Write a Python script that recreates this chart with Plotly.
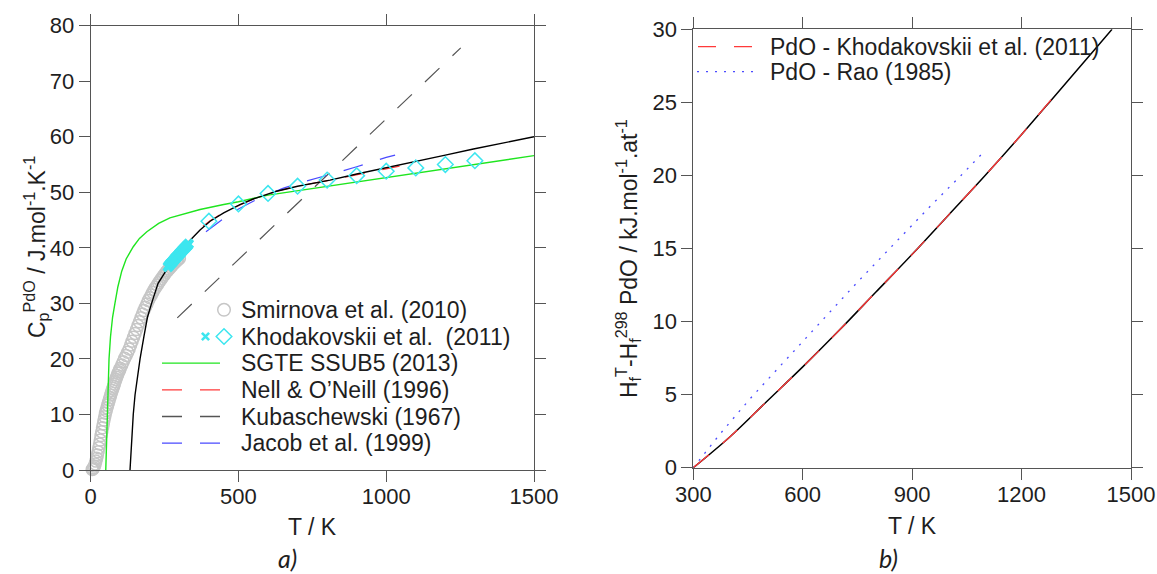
import plotly.graph_objects as go

W, H = 1157, 574

# ---------------- data: panel a) heat capacity ----------------
smirnova_T = [5, 7.5, 10, 12.5, 15, 17.5, 20, 22.5, 25, 27.5, 30, 32.5, 35, 37.5, 40, 42.5, 45,
              47.5, 50, 52.5, 55, 57.5, 60, 62.5, 65, 67.5, 70, 72.5, 75, 77.5, 80, 82.5, 85, 87.5,
              90, 92.5, 95, 97.5, 100,
              105, 110, 115, 120, 125, 130, 135, 140, 145, 150, 155, 160, 165, 170, 175, 180,
              185, 190, 195, 200, 205, 210, 215, 220, 225, 230, 235, 240, 245, 250, 255, 260,
              265, 270, 275, 280, 285, 290, 295, 300]
smirnova_cp = [0.1, 0.2, 0.4, 0.7, 1.1, 1.6, 2.1, 2.7, 3.3, 4.0, 4.7, 5.4, 6.2, 6.9, 7.6, 8.3, 9.0,
               9.6, 10.2, 10.7, 11.2, 11.7, 12.1, 12.6, 13.0, 13.5, 13.9, 14.3, 14.7, 15.1, 15.5,
               15.9, 16.3, 16.7, 17.0, 17.4, 17.7, 18.0, 18.3,
               18.9, 19.5, 20.1, 20.6, 21.2, 21.8, 22.5, 23.2, 23.9,
               24.6, 25.3, 26.0, 26.7, 27.4, 28.1, 28.7, 29.3, 29.9, 30.5, 31.0, 31.5, 32.0, 32.5,
               32.9, 33.3, 33.7, 34.1, 34.5, 34.9, 35.2, 35.6, 35.9, 36.2, 36.5, 36.8, 37.1, 37.4,
               37.6, 37.9, 38.1]

khod_low_T = [262, 265, 268, 271, 274, 277, 280, 283, 286, 289, 292, 295, 298, 301, 304, 307,
              310, 313, 316, 319, 322, 325, 328, 331]
khod_low_cp = [36.6, 36.8, 37.0, 37.2, 37.35, 37.5, 37.7, 37.9, 38.1, 38.3, 38.4, 38.6, 38.8,
               39.0, 39.1, 39.3, 39.5, 39.7, 39.8, 40.0, 40.2, 40.3, 40.5, 40.7]

khod_T = [400, 500, 600, 700, 800, 900, 1000, 1100, 1200, 1300]
khod_cp = [44.8, 47.9, 49.8, 51.1, 52.2, 53.0, 53.8, 54.4, 55.0, 55.7]

sgte_T = [51, 53, 56, 59, 62, 67, 74, 82, 92, 105, 120, 144, 165, 190, 230, 268, 320, 370,
          450, 500, 600, 700, 800, 900, 1000, 1100, 1200, 1300, 1400, 1500]
sgte_cp = [0, 4, 10, 15, 20, 24, 27.5, 30, 33, 35.8, 38, 40.2, 41.7, 42.9, 44.4, 45.4, 46.2,
           46.9, 47.8, 48.3, 49.5, 50.3, 51.0, 51.8, 52.6, 53.4, 54.2, 55.0, 55.8, 56.6]

calc_T = [133, 136, 139, 144, 150, 158, 167, 180, 192, 206, 228, 260, 300, 330, 370, 404, 450,
          505, 550, 629, 700, 810, 900, 1002, 1100, 1200, 1295, 1400, 1500]
calc_cp = [0, 3, 6, 10, 13.5, 17, 20, 24, 27.5, 30, 33.6, 36.3, 39.0, 41.0, 43.2, 44.8, 46.3,
           47.8, 48.8, 50.2, 51.1, 52.2, 53.3, 54.5, 55.6, 56.7, 57.8, 58.9, 60.0]

nell_T = [380, 404, 450, 505, 550, 629, 700, 810, 900, 1002, 1045]
nell_cp = [43.9, 44.9, 46.4, 47.8, 48.8, 50.2, 51.1, 52.2, 53.2, 54.3, 54.7]

kuba_T = [293, 1252]
kuba_cp = [27.4, 76.0]

jacob_T = [390, 420, 450, 500, 550, 600, 650, 700, 750, 800, 850, 900, 950, 1000, 1030]
jacob_cp = [42.9, 44.1, 45.3, 47.0, 48.4, 49.6, 50.7, 51.6, 52.3, 53.0, 53.8, 54.6, 55.5, 56.3, 56.7]

# ---------------- data: panel b) enthalpy ----------------
h_calc_T = [300, 400, 500, 600, 700, 800, 900, 1000, 1100, 1200, 1300, 1400, 1448]
h_calc = [0, 2.1, 4.5, 6.9, 9.4, 12.0, 14.6, 17.3, 20.0, 22.8, 25.7, 28.6, 30.0]

h_khod_T = [300, 400, 500, 600, 700, 800, 900, 1000, 1100, 1200, 1285]
h_khod = [0, 2.1, 4.5, 6.9, 9.4, 12.0, 14.6, 17.3, 20.0, 22.8, 25.3]

h_rao_T = [300, 373, 455, 550, 650, 750, 850, 950, 1034, 1100]
h_rao = [0, 2.3, 4.7, 7.3, 10.0, 12.7, 15.3, 17.9, 20.0, 21.7]

# ticks / labels
a_xticks = [0, 500, 1000, 1500]
b_xticks = [300, 600, 900, 1200, 1500]

left_legend = ["Smirnova et al. (2010)", "Khodakovskii et al.\u00a0 (2011)", "SGTE SSUB5 (2013)",
               "Nell &amp; O\u2019Neill (1996)", "Kubaschewski (1967)", "Jacob et al. (1999)"]
right_legend = ["PdO - Khodakovskii et al. (2011)", "PdO - Rao (1985)"]

# ---------------- styles ----------------
GRAY_M = "#c6c6c6"
CYAN = "#3de6ef"
GREEN = "#1fe51f"
RED = "#ff3a3a"
BLUE = "#4a4aff"
DGRAY = "#555555"
BLACK = "#000000"
DASH = "20px,18px"
DOT = "2px,7px"
TXT = "#1e1e1e"
FONT = "Liberation Sans, Arial, Helvetica, sans-serif"

fig = go.Figure()

# panel a)
fig.add_trace(go.Scatter(x=smirnova_T, y=smirnova_cp, mode="markers", cliponaxis=False,
                         marker=dict(symbol="circle-open", size=12, color=GRAY_M, line=dict(width=1.5)),
                         xaxis="x", yaxis="y", showlegend=False))
fig.add_trace(go.Scatter(x=sgte_T, y=sgte_cp, mode="lines", line=dict(color=GREEN, width=1.4),
                         xaxis="x", yaxis="y", showlegend=False))
fig.add_trace(go.Scatter(x=kuba_T, y=kuba_cp, mode="lines", line=dict(color=DGRAY, width=1.2, dash=DASH),
                         xaxis="x", yaxis="y", showlegend=False))
fig.add_trace(go.Scatter(x=nell_T, y=nell_cp, mode="lines", line=dict(color=RED, width=1.2, dash=DASH),
                         xaxis="x", yaxis="y", showlegend=False))
fig.add_trace(go.Scatter(x=jacob_T, y=jacob_cp, mode="lines", line=dict(color=BLUE, width=1.2, dash=DASH),
                         xaxis="x", yaxis="y", showlegend=False))
fig.add_trace(go.Scatter(x=calc_T, y=calc_cp, mode="lines", line=dict(color=BLACK, width=1.4),
                         xaxis="x", yaxis="y", showlegend=False))
fig.add_trace(go.Scatter(x=khod_low_T, y=khod_low_cp, mode="markers",
                         marker=dict(symbol="x", size=10, color=CYAN, line=dict(width=0)),
                         xaxis="x", yaxis="y", showlegend=False))
fig.add_trace(go.Scatter(x=khod_T, y=khod_cp, mode="markers",
                         marker=dict(symbol="diamond-open", size=12, color=CYAN, line=dict(width=1.5)),
                         xaxis="x", yaxis="y", showlegend=False))

# panel b)
fig.add_trace(go.Scatter(x=h_rao_T, y=h_rao, mode="lines", line=dict(color=BLUE, width=1.3, dash=DOT),
                         xaxis="x2", yaxis="y2", showlegend=False))
fig.add_trace(go.Scatter(x=h_calc_T, y=h_calc, mode="lines", line=dict(color=BLACK, width=1.5, shape="spline"),
                         xaxis="x2", yaxis="y2", showlegend=False))
fig.add_trace(go.Scatter(x=h_khod_T, y=h_khod, mode="lines",
                         line=dict(color=RED, width=1.3, dash=DASH, shape="spline"),
                         xaxis="x2", yaxis="y2", showlegend=False))


def fx(p):
    return p / W


def fy(p):
    return 1 - p / H


axis_common = dict(showline=True, linecolor=DGRAY, linewidth=1, mirror="ticks", ticks="outside",
                   ticklen=11, tickwidth=1, tickcolor=DGRAY, showgrid=False, zeroline=False,
                   automargin=False, tickfont=dict(size=22, color=TXT, family=FONT))

fig.update_layout(
    width=W, height=H, margin=dict(l=0, r=0, t=0, b=0),
    paper_bgcolor="white", plot_bgcolor="white",
    font=dict(family=FONT, size=22, color=TXT),
    xaxis=dict(domain=[fx(90.7), fx(534)], range=[0, 1500], tickvals=a_xticks, anchor="y",
               ticklabelstandoff=-4, **axis_common),
    yaxis=dict(domain=[fy(470), fy(25.7)], range=[0, 80], dtick=10, anchor="x", **axis_common),
    xaxis2=dict(domain=[fx(693.3), fx(1131)], range=[300, 1500], tickvals=b_xticks, anchor="y2",
                ticklabelstandoff=-4, **axis_common),
    yaxis2=dict(domain=[fy(467.7), fy(29.3)], range=[0, 30], dtick=5, anchor="x2", **axis_common),
)

ann = []
shapes = []


def text(x, y, s, size=22, anchor="center", angle=0, family=FONT):
    ann.append(dict(x=fx(x), y=fy(y), xref="paper", yref="paper", text=s, showarrow=False,
                    xanchor=anchor, yanchor="middle", textangle=angle,
                    font=dict(size=size, color=TXT, family=family)))


# axis titles and panel labels
text(312, 527, "T / K", size=23)
text(912, 526, "T / K", size=23)
text(36, 247, "C<sub>p</sub><sup>PdO</sup> / J.mol<sup>-1</sup>.K<sup>-1</sup>", size=23, angle=-90)
text(628, 259, "H<sub>f</sub><sup>T</sup>-H<sub>f</sub><sup>298</sup> PdO / kJ.mol<sup>-1</sup>.at<sup>-1</sup>",
     size=23, angle=-90)
text(287, 558, "<i>a)</i>", size=25, family="Lato, Open Sans, sans-serif")
text(888, 558, "<i>b)</i>", size=25, family="Lato, Open Sans, sans-serif")

# legend of panel a)
rows_a = [309.8, 336.5, 363.2, 389.8, 416.5, 443.2]
for yy, name in zip(rows_a, left_legend):
    text(239, yy, name, size=23, anchor="left")


def key_line(x0, x1, y, color, dash, width=1.3):
    shapes.append(dict(type="line", xref="paper", yref="paper", x0=fx(x0), x1=fx(x1), y0=fy(y), y1=fy(y),
                       line=dict(color=color, width=width, dash=dash)))


# circle key
r = 6.3
shapes.append(dict(type="circle", xref="paper", yref="paper", x0=fx(224 - r), x1=fx(224 + r),
                   y0=fy(rows_a[0] + r), y1=fy(rows_a[0] - r), line=dict(color=GRAY_M, width=1.5)))
# cross key
c = 3.6
yk = rows_a[1]
shapes.append(dict(type="path", xref="paper", yref="paper",
                   path=f"M{fx(205.5 - c)},{fy(yk - c)} L{fx(205.5 + c)},{fy(yk + c)} "
                        f"M{fx(205.5 - c)},{fy(yk + c)} L{fx(205.5 + c)},{fy(yk - c)}",
                   line=dict(color=CYAN, width=2.6)))
# diamond key
d = 7.8
shapes.append(dict(type="path", xref="paper", yref="paper",
                   path=f"M{fx(224 - d)},{fy(yk)} L{fx(224)},{fy(yk - d)} L{fx(224 + d)},{fy(yk)} "
                        f"L{fx(224)},{fy(yk + d)} Z",
                   line=dict(color=CYAN, width=1.5)))
key_line(162, 220, rows_a[2], GREEN, "solid")
key_line(162, 220, rows_a[3], RED, DASH)
key_line(162, 220, rows_a[4], DGRAY, DASH)
key_line(162, 220, rows_a[5], BLUE, DASH)

# legend of panel b)
rows_b = [46.7, 71.7]
for yy, name in zip(rows_b, right_legend):
    text(768, yy, name, size=23, anchor="left")
key_line(698, 756, rows_b[0], RED, "18px,18px")
key_line(697, 757, rows_b[1], BLUE, DOT)

fig.update_layout(annotations=ann, shapes=shapes)
fig.write_html("out.html", config={"displayModeBar": False},
               post_script="document.body.style.margin='0';document.body.style.overflow='hidden';")
